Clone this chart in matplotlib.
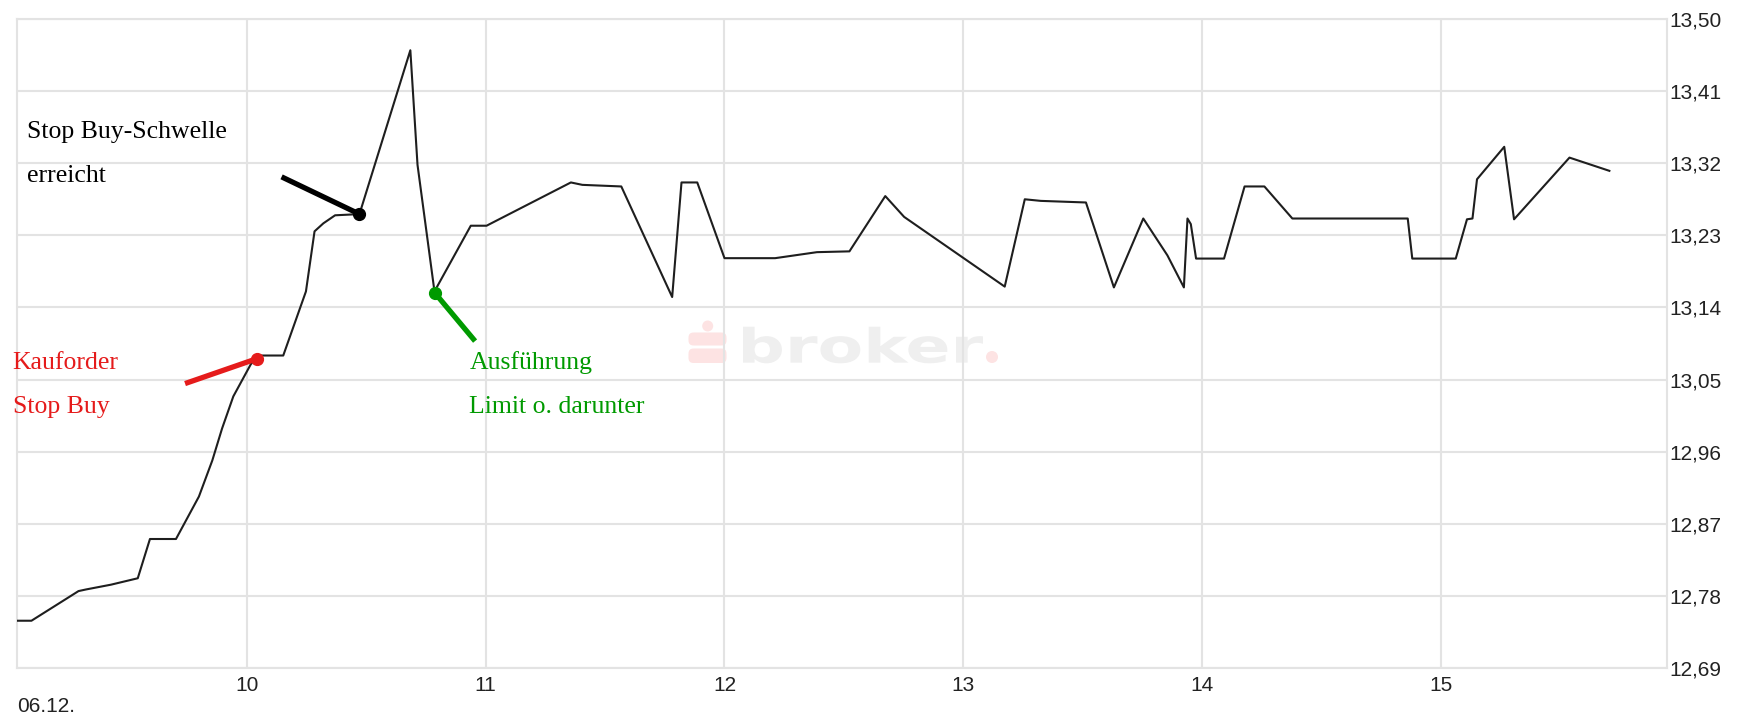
import numpy as np
import matplotlib.pyplot as plt
from matplotlib.textpath import TextPath
from matplotlib.patches import PathPatch, Circle, FancyBboxPatch
from matplotlib.font_manager import FontProperties
from matplotlib.transforms import Affine2D

# Kursverlauf 06.12. (Uhrzeit in Stunden, Kurs in EUR)
zeit = [9.039, 9.099, 9.296, 9.327, 9.432, 9.544, 9.595, 9.704, 9.800, 9.856,
        9.897, 9.944, 10.017, 10.049, 10.153, 10.248, 10.284, 10.321, 10.370, 10.472,
        10.685, 10.715, 10.786, 10.938, 11.004, 11.357, 11.405, 11.568, 11.781, 11.820,
        11.886, 12.000, 12.212, 12.387, 12.523, 12.673, 12.752, 13.173, 13.257, 13.324,
        13.513, 13.630, 13.753, 13.854, 13.923, 13.938, 13.952, 13.974, 14.091, 14.177,
        14.260, 14.377, 14.860, 14.879, 15.061, 15.108, 15.131, 15.150, 15.264, 15.305,
        15.537, 15.704]
kurs = [12.749, 12.749, 12.786, 12.788, 12.794, 12.802, 12.851, 12.851, 12.904, 12.949,
        12.989, 13.029, 13.069, 13.080, 13.080, 13.160, 13.235, 13.245, 13.255, 13.2565,
        13.461, 13.318, 13.160, 13.242, 13.242, 13.296, 13.293, 13.291, 13.153, 13.296,
        13.296, 13.2015, 13.2015, 13.209, 13.210, 13.279, 13.253, 13.166, 13.275, 13.273,
        13.271, 13.165, 13.251, 13.205, 13.165, 13.251, 13.244, 13.201, 13.201, 13.291,
        13.291, 13.251, 13.251, 13.201, 13.201, 13.250, 13.251, 13.300, 13.3405, 13.250,
        13.327, 13.3105]

y_ticks = [12.69, 12.78, 12.87, 12.96, 13.05, 13.14, 13.23, 13.32, 13.41, 13.50]
y_labels = ['12,69', '12,78', '12,87', '12,96', '13,05', '13,14', '13,23', '13,32', '13,41', '13,50']
x_ticks = [10, 11, 12, 13, 14, 15]
x_labels = ['10', '11', '12', '13', '14', '15']
datum = '06.12.'

# Markierungen: (Punkt auf Kurve, Ende des Strichs), Farbe, Texte
marken = [
    ((10.042, 13.076), (9.742, 13.045), '#e51b1b'),
    ((10.472, 13.2565), (10.146, 13.303), '#000000'),
    ((10.788, 13.158), (10.956, 13.098), '#009a00'),
]
texte = [
    (9.080, 13.352, 'Stop Buy-Schwelle', '#000000'),
    (9.080, 13.296, 'erreicht', '#000000'),
    (9.0205, 13.063, 'Kauforder', '#e51b1b'),
    (9.0205, 13.008, 'Stop Buy', '#e51b1b'),
    (10.932, 13.063, 'Ausführung', '#009a00'),
    (10.932, 13.008, 'Limit o. darunter', '#009a00'),
]

W, H = 1739, 714
fig = plt.figure(figsize=(W / 100, H / 100), dpi=100)
fig.patch.set_facecolor('white')
ax = fig.add_axes([17 / W, (H - 668) / H, (1666.7 - 17) / W, (668 - 19) / H])

gridc = '#e3e3e3'
ax.set_axisbelow(True)
ax.grid(True, color=gridc, lw=1.5)
for s in ax.spines.values():
    s.set_color(gridc)
    s.set_linewidth(1.5)

ax.plot(zeit, kurs, color='#1e1e1e', lw=1.5, zorder=3)

for (p, q, c) in marken:
    ax.plot([q[0], p[0]], [q[1], p[1]], color=c, lw=3.8, solid_capstyle='butt', zorder=4)
    ax.plot([p[0]], [p[1]], 'o', color=c, ms=8.5, zorder=5)

for (x, y, t, c) in texte:
    ax.text(x, y, t, color=c, fontsize=18.5, family='Liberation Serif',
            va='baseline', ha='left', zorder=6)

ax.set_xlim(9.0385, 15.944)
ax.set_ylim(12.69, 13.50)
ax.set_xticks(x_ticks)
ax.set_xticklabels(x_labels)
ax.set_yticks(y_ticks)
ax.set_yticklabels(y_labels)
ax.yaxis.tick_right()
ax.tick_params(axis='both', length=0, labelsize=15, labelcolor='#222222')
ax.tick_params(axis='x', pad=6)
ax.tick_params(axis='y', pad=2)
for lab in ax.get_xticklabels() + ax.get_yticklabels():
    lab.set_family('Liberation Sans')
fig.text(17 / W, 1 - 706 / H, datum, fontsize=15, family='Liberation Sans',
         color='#222222', va='center', ha='left')

# Wasserzeichen "S broker." (Bildpixel -> Anzeige)
img = Affine2D().scale(1, -1).translate(0, H)
pink = '#fde3e3'
tp = TextPath((0, 0), 'broker', size=1, prop=FontProperties(family='DejaVu Sans', weight='bold'))
bb = tp.get_extents()
tr = Affine2D().translate(-bb.x0, -bb.y0).scale(240 / bb.width, 36.6 / bb.height).translate(743, H - 363.3)
ax.add_patch(PathPatch(tp, transform=tr, color='#efefef', lw=0, zorder=0.3, clip_on=False))
ax.add_patch(Circle((707.7, 326), 5.5, transform=img, color=pink, lw=0, zorder=0.3, clip_on=False))
ax.add_patch(FancyBboxPatch((690, 334), 35, 10, boxstyle='round,pad=1.5,rounding_size=5',
                            transform=img, color=pink, lw=0, zorder=0.3, clip_on=False))
ax.add_patch(FancyBboxPatch((690, 350), 35, 11.5, boxstyle='round,pad=1.5,rounding_size=5',
                            transform=img, color=pink, lw=0, zorder=0.3, clip_on=False))
ax.add_patch(Circle((992, 357), 6, transform=img, color=pink, lw=0, zorder=0.3, clip_on=False))

fig.savefig('out.png', dpi=100)
